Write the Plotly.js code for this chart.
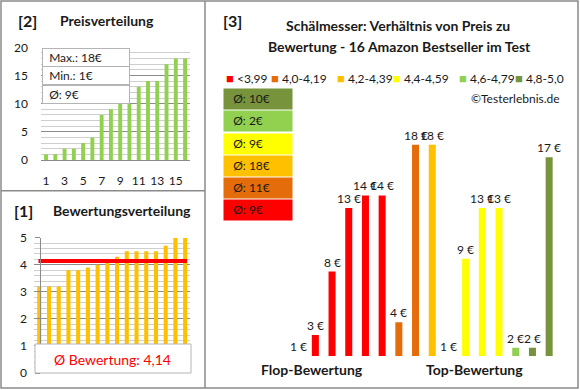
<!DOCTYPE html>
<html><head><meta charset="utf-8">
<script src="https://cdn.plot.ly/plotly-3.0.1.min.js"></script>
<style>html,body{margin:0;padding:0;background:#fff}</style>
</head><body><div id="chart" style="width:580px;height:390px"></div>
<script>
// ---- data ----
const priceDist = [1,1,2,2,3,4,8,9,10,10,13,14,14,17,18,18];
const ratings = [3.2,3.2,3.2,3.8,3.8,3.9,4.0,4.1,4.3,4.5,4.5,4.5,4.5,4.7,5.0,5.0];
const prices = [1,3,8,13,14,14,4,18,18,1,9,13,13,2,2,17];
const bucketLabels = ['<3,99','4,0-4,19','4,2-4,39','4,4-4,59','4,6-4,79','4,8-5,0'];
const bucketBounds = [4.0,4.2,4.4,4.6,4.8];
const bucketColors = ['#FF0000','#E46C0A','#FFC000','#FFFF00','#92D050','#77933C'];
const groupLabels = ['Flop-Bewertung','Top-Bewertung'];
const priceTicks = [1,3,5,7,9,11,13,15];

// ---- helpers ----
const W=580,H=390;
const px = x => x/W, py = y => 1 - y/H;
const FONT = 'Lato, "Open Sans", sans-serif';
const TXT = '#1a1a1a';
const bucketOf = r => { let b=0; while(b<bucketBounds.length && r>=bucketBounds[b]-1e-9) b++; return b; };
const idx1 = priceDist.map((_,i)=>i+1);
const idx0 = prices.map((_,i)=>i);
const avg = a => a.reduce((s,v)=>s+v,0)/a.length;
const ratingAvg = avg(ratings);
const fmtDE = (v,d) => v.toFixed(d).replace('.',',');

const traces = [
  {type:'bar', x:idx1, y:priceDist, xaxis:'x', yaxis:'y', width:0.42,
   marker:{color:'#92D050'}, hoverinfo:'skip'},
  {type:'bar', x:idx1, y:ratings, xaxis:'x2', yaxis:'y2', width:0.42,
   marker:{color:'#FFC000'}, hoverinfo:'skip'},
  {type:'scatter', mode:'lines', x:[0.92,16.2], y:[ratingAvg,ratingAvg], xaxis:'x2', yaxis:'y2',
   line:{color:'#FF0000', width:4}, hoverinfo:'skip'},
  {type:'bar', x:idx0, y:prices, xaxis:'x3', yaxis:'y3', width:0.42,
   marker:{color:ratings.map(r=>bucketColors[bucketOf(r)])}, hoverinfo:'skip'}
];

const y3range = [1.34, 21.52];
const ann = [];
const A = o => ann.push(Object.assign({showarrow:false, xanchor:'center', yanchor:'middle', font:{family:FONT,size:12,color:TXT}}, o));

// panel titles
A({xref:'paper',yref:'paper',x:px(27),y:py(20),text:'<b>[2]</b>',font:{family:FONT,size:16,color:TXT}});
A({xref:'paper',yref:'paper',x:px(107),y:py(20),text:'<b>Preisverteilung</b>',font:{family:FONT,size:14,color:TXT}});
A({xref:'paper',yref:'paper',x:px(23),y:py(210),text:'<b>[1]</b>',font:{family:FONT,size:16,color:TXT}});
A({xref:'paper',yref:'paper',x:px(122),y:py(210),text:'<b>Bewertungsverteilung</b>',font:{family:FONT,size:14,color:TXT}});
A({xref:'paper',yref:'paper',x:px(232),y:py(20),text:'<b>[3]</b>',font:{family:FONT,size:16,color:TXT}});
A({xref:'paper',yref:'paper',x:px(398),y:py(26),text:'<b>Schälmesser: Verhältnis von Preis zu</b>',font:{family:FONT,size:14,color:TXT}});
A({xref:'paper',yref:'paper',x:px(399),y:py(46),text:'<b>Bewertung - 16 Amazon Bestseller im Test</b>',font:{family:FONT,size:14,color:TXT}});
A({xref:'paper',yref:'paper',x:px(562),y:py(98),xanchor:'right',text:'©Testerlebnis.de'});

// price summary box
const statRows = ['Max.: '+Math.max(...priceDist)+'€','Min.: '+Math.min(...priceDist)+'€','Ø: '+Math.round(avg(priceDist))+'€'];
statRows.forEach((t,k)=>A({xref:'paper',yref:'paper',x:px(42),y:py(57.3+18.4*k),xanchor:'left',yanchor:'middle',
  text:'\u00a0\u00a0'+t,align:'left',width:86,height:17.4,bgcolor:'#fff',bordercolor:'#b4b4b4',borderwidth:1,borderpad:0}));

// rating avg box text
A({xref:'paper',yref:'paper',x:px(112),y:py(359),text:'Ø Bewertung: '+fmtDE(ratingAvg,2),font:{family:FONT,size:14,color:'#FF0000'}});

// legend entries
const legX = [226,271,337,393,459,515];
bucketLabels.forEach((l,k)=>A({xref:'paper',yref:'paper',x:px(legX[k]-2),y:py(78),xanchor:'left',
  text:'<span style="color:'+bucketColors[k]+';font-size:13px">■</span> '+l.replace('<','&lt;')}));

// group average boxes (top: best bucket)
for(let k=0;k<6;k++){
  const b = 5-k;
  const vals = prices.filter((p,i)=>bucketOf(ratings[i])===b);
  A({xref:'paper',yref:'paper',x:px(223),y:py(99.2+22.2*k),xanchor:'left',yanchor:'middle',align:'left',
    width:68,height:19.5,borderpad:0,bgcolor:bucketColors[b],
    text:'\u00a0\u00a0\u00a0Ø: '+Math.round(avg(vals))+'€'});
}

// bar value labels
prices.forEach((v,i)=>A({xref:'x3',yref:'y3',x:i,y:Math.max(v,y3range[0]),yanchor:'bottom',text:v+' €',font:{family:FONT,size:12,color:TXT}}));

// group labels
A({xref:'paper',yref:'paper',x:px(312),y:py(369),text:'<b>'+groupLabels[0]+'</b>',font:{family:FONT,size:14,color:TXT}});
A({xref:'paper',yref:'paper',x:px(474),y:py(369),text:'<b>'+groupLabels[1]+'</b>',font:{family:FONT,size:14,color:TXT}});

const grey='#8a8a8a';
const shapes = [
  {type:'rect',xref:'paper',yref:'paper',x0:px(1),x1:px(578),y0:py(388),y1:py(1),line:{color:grey,width:1.5}},
  {type:'line',xref:'paper',yref:'paper',x0:px(205),x1:px(205),y0:py(388),y1:py(1),line:{color:grey,width:1.5}},
  {type:'line',xref:'paper',yref:'paper',x0:px(1),x1:px(205),y0:py(190.7),y1:py(190.7),line:{color:grey,width:1.5}},
  {type:'rect',xref:'paper',yref:'paper',x0:px(35),x1:px(191),y0:py(373),y1:py(344),fillcolor:'#fff',line:{color:'#b4b4b4',width:1},layer:'above'}
];

const layout = {
  width:W, height:H, margin:{l:0,r:0,t:0,b:0}, showlegend:false,
  paper_bgcolor:'#fff', plot_bgcolor:'rgba(0,0,0,0)',
  font:{family:FONT,size:12,color:TXT},
  xaxis:{domain:[px(41.4),px(189.7)],range:[0.5,16.5],tickvals:priceTicks,showgrid:false,zeroline:false,
    ticks:'outside',ticklen:10,tickcolor:'rgba(0,0,0,0)',showline:true,linecolor:grey,linewidth:1,tickfont:{size:12,color:TXT}},
  yaxis:{domain:[py(160),py(47.3)],range:[0,20],dtick:5,gridcolor:'#8c8c8c',zeroline:false,
    minor:{dtick:1,showgrid:true,gridcolor:'#cfcfcf'},ticks:'outside',ticklen:10,tickcolor:'rgba(0,0,0,0)',tickfont:{size:12,color:TXT}},
  xaxis2:{domain:[px(34.4),px(190)],range:[0.5,16.5],showticklabels:false,showgrid:false,zeroline:false,ticks:''},
  yaxis2:{domain:[py(373),py(237.7)],range:[0,5],dtick:1,gridcolor:'#8c8c8c',zeroline:false,
    minor:{dtick:0.2,showgrid:true,gridcolor:'#cfcfcf'},showline:true,linecolor:grey,linewidth:1,
    ticks:'outside',ticklen:5,tickcolor:grey,ticklabelstandoff:6,tickfont:{size:12,color:TXT}},
  xaxis3:{domain:[px(290.3),px(557.5)],range:[-0.5,15.5],visible:false},
  yaxis3:{domain:[py(356),py(100)],range:y3range,visible:false},
  annotations:ann, shapes:shapes
};
Plotly.newPlot('chart',traces,layout,{staticPlot:true,displayModeBar:false});
</script></body></html>
